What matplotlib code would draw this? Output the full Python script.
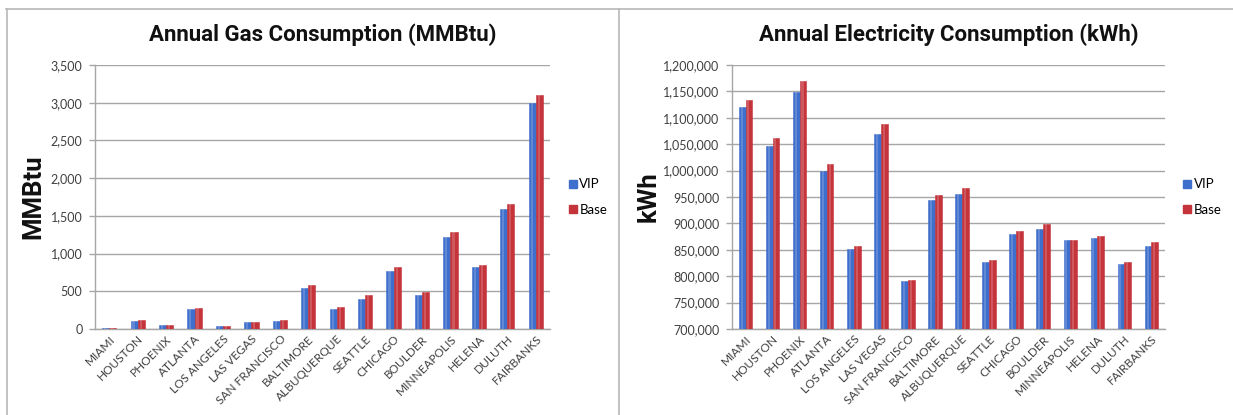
import numpy as np
import matplotlib.pyplot as plt
from matplotlib.ticker import FuncFormatter
from matplotlib.lines import Line2D

cities = ['MIAMI', 'HOUSTON', 'PHOENIX', 'ATLANTA', 'LOS ANGELES', 'LAS VEGAS',
          'SAN FRANCISCO', 'BALTIMORE', 'ALBUQUERQUE', 'SEATTLE', 'CHICAGO',
          'BOULDER', 'MINNEAPOLIS', 'HELENA', 'DULUTH', 'FAIRBANKS']

# annual gas use, MMBtu
gas_vip = [8, 105, 48, 265, 35, 88, 105, 540, 270, 400, 770, 455, 1215, 820, 1590, 3000]
gas_base = [10, 120, 55, 278, 37, 97, 125, 580, 292, 445, 820, 495, 1280, 855, 1655, 3105]

# annual electricity use, kWh
elec_vip = [1120000, 1047000, 1148000, 1000000, 852000, 1070000, 790000, 944000,
            956000, 826000, 880000, 890000, 868000, 872000, 823000, 858000]
elec_base = [1134000, 1062000, 1170000, 1013000, 858000, 1088000, 793000, 954000,
             967000, 830000, 885000, 898000, 868000, 877000, 826000, 864000]

BLUE = '#3f6fcc'
RED = '#c4343a'
GRID = '#a6a6a6'
TEXT = '#404040'
FONT = 'Lato'
HEAD = 'Roboto'

W, H = 1233, 415


def frac(x0, y0, x1, y1):
    # pixel box (top-left origin) -> figure fraction rect
    return [x0 / W, (H - y1) / H, (x1 - x0) / W, (y1 - y0) / H]


def draw_panel(ax, vip, base, ymin, ymax, step, title, ylabel, ylabel_pad):
    x = np.arange(len(cities))
    w = 0.25
    for vals, off, col in ((vip, -w / 2, BLUE), (base, w / 2, RED)):
        heights = np.array(vals) - ymin
        ax.bar(x + off, heights, width=w, bottom=ymin, color=col,
               edgecolor=col, linewidth=0.4, zorder=3)
        # lighter streak down the middle of each bar
        ax.bar(x + off - w * 0.08, heights, width=w * 0.3, bottom=ymin,
               color='white', alpha=0.18, linewidth=0, zorder=4)

    ax.set_xlim(-0.5, len(cities) - 0.5)
    ax.set_ylim(ymin, ymax)
    ax.set_yticks(np.arange(ymin, ymax + 1, step))
    ax.yaxis.set_major_formatter(FuncFormatter(lambda v, p: f'{int(v):,}'))
    ax.grid(axis='y', color=GRID, linewidth=1.0, zorder=0)
    ax.set_axisbelow(True)

    for s in ('top', 'right'):
        ax.spines[s].set_visible(False)
    for s in ('left', 'bottom'):
        ax.spines[s].set_color(GRID)
        ax.spines[s].set_linewidth(1.0)

    ax.tick_params(axis='y', length=4, width=1.0, color=GRID, pad=5,
                   labelsize=9, labelcolor=TEXT)
    ax.tick_params(axis='x', length=0, pad=3, labelsize=8.6, labelcolor=TEXT)
    ax.set_xticks(x)
    ax.set_xticklabels(cities, rotation=45, ha='right', rotation_mode='anchor',
                       family=FONT)
    for lab in ax.get_yticklabels():
        lab.set_family(FONT)

    ax.set_title(title, fontsize=16, fontweight='bold', family=HEAD,
                 color='#111111', pad=17)
    ax.set_ylabel(ylabel, fontsize=18.5, fontweight='bold', family=HEAD,
                  color='#111111', labelpad=ylabel_pad)

    handles = [Line2D([], [], marker='s', linestyle='none', markersize=6,
                      markerfacecolor=c, markeredgecolor=c) for c in (BLUE, RED)]
    ax.legend(handles, ['VIP', 'Base'], loc='center left',
              bbox_to_anchor=(1.015, 0.5), frameon=False, handlelength=0.6,
              handletextpad=0.2, labelspacing=1.0,
              prop={'family': FONT, 'size': 9.5})


fig = plt.figure(figsize=(W / 100, H / 100), dpi=100)
fig.patch.set_facecolor('white')

ax1 = fig.add_axes(frac(95, 65, 550, 329))
draw_panel(ax1, gas_vip, gas_base, 0, 3500, 500,
           'Annual Gas Consumption (MMBtu)', 'MMBtu', 4)

ax2 = fig.add_axes(frac(732, 65, 1165, 329))
draw_panel(ax2, elec_vip, elec_base, 700000, 1200000, 50000,
           'Annual Electricity Consumption (kWh)', 'kWh', 2)

# panel frames
frame = dict(color='#b8b8b8', linewidth=1.2, transform=fig.transFigure)
fig.add_artist(Line2D([6 / W, 1.0], [1 - 9.5 / H, 1 - 9.5 / H], **frame))
fig.add_artist(Line2D([6.5 / W, 6.5 / W], [0, 1 - 9.5 / H], **frame))
fig.add_artist(Line2D([619 / W, 619 / W], [0, 1 - 9.5 / H], **frame))

fig.savefig('out.png', dpi=100)
